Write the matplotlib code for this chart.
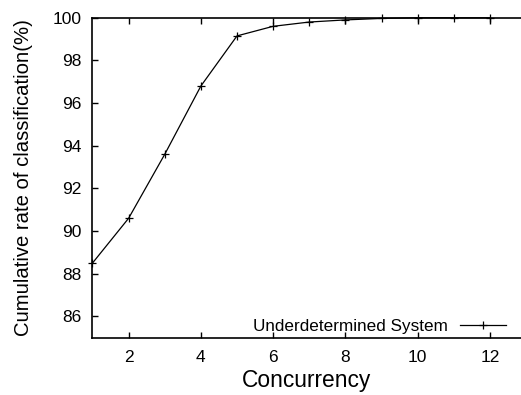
import matplotlib
matplotlib.use("Agg")
import matplotlib.pyplot as plt

plt.rcParams['font.family'] = ['Liberation Sans', 'DejaVu Sans']

concurrency = [1, 2, 3, 4, 5, 6, 7, 8, 9, 10, 11, 12]
rate = [88.5, 90.6, 93.6, 96.8, 99.15, 99.6, 99.8, 99.9, 99.97, 100.0, 100.0, 100.0]
series_label = "Underdetermined System"
xticks = [2, 4, 6, 8, 10, 12]
yticks = [86, 88, 90, 92, 94, 96, 98, 100]

fig = plt.figure(figsize=(5.21, 3.95), dpi=100)
ax = fig.add_axes([0.1775, 0.145, 0.8225, 0.81])

ax.plot(concurrency, rate, color='black', linewidth=0.9, marker='+',
        markersize=5.5, markeredgewidth=0.9, label=series_label, clip_on=False)

ax.set_xlim(1, 12.86)
ax.set_ylim(85, 100)
ax.set_xticks(xticks)
ax.set_yticks(yticks)
ax.tick_params(direction='in', length=4, width=1, labelsize=12.5,
               top=True, right=False)
ax.tick_params(axis='x', pad=9)
ax.tick_params(axis='y', pad=8)
ax.spines['right'].set_visible(False)
for s in ['left', 'bottom', 'top']:
    ax.spines[s].set_linewidth(1.2)

ax.set_xlabel("Concurrency", fontsize=16.4, labelpad=3)
ax.set_ylabel("Cumulative rate of classification(%)", fontsize=14.6, labelpad=14)

leg = ax.legend(loc='lower right', frameon=False, fontsize=12.3,
                markerfirst=False, handlelength=2.7, borderaxespad=0.2,
                handletextpad=0.7, bbox_to_anchor=(0.989, -0.02))

fig.savefig("out.png", dpi=100)
